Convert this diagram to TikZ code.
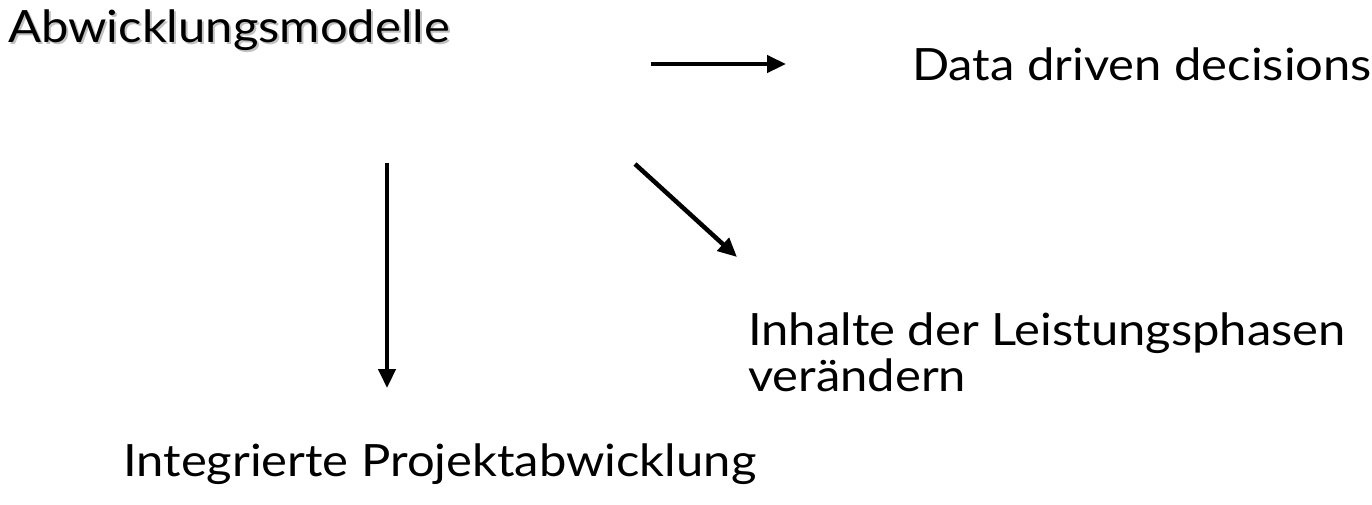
\documentclass[tikz,border=0pt]{standalone}
\usepackage{fontspec}
\setmainfont{Lato}
\usetikzlibrary{arrows.meta}
\newcommand{\widetext}[1]{\scalebox{1.1}[1]{#1}}
\begin{document}
\begin{tikzpicture}[x=1pt,y=-1pt,
  lbl/.style={anchor=base west,inner sep=0pt,font=\fontsize{44.5}{45}\selectfont},
  arr/.style={line width=4.5pt,-{Triangle[length=19pt,width=17pt]}}]
\useasboundingbox (0,0) rectangle (1372,504);
\node[lbl,text=black!30,opacity=0.8] (shadow) at (10,44) {\widetext{Abwicklungsmodelle}};
\node[lbl] (abw) at (8,42) {\widetext{Abwicklungsmodelle}};
\node[lbl] (data) at (912,80) {\widetext{Data driven decisions}};
\node[lbl] (inh) at (748,345) {\widetext{\begin{tabular}[t]{@{}l@{}}Inhalte der Leistungsphasen\\verändern\end{tabular}}};
\node[lbl] (int) at (123,476) {\widetext{Integrierte Projektabwicklung}};
\coordinate (a1s) at (651,64);
\coordinate (a1e) at (786,64);
\coordinate (a2s) at (387,163);
\coordinate (a2e) at (387,388);
\coordinate (a3s) at (635,164);
\coordinate (a3e) at (737,257);
\draw[arr] (a1s) -- (a1e);
\draw[arr] (a2s) -- (a2e);
\draw[arr] (a3s) -- (a3e);
\end{tikzpicture}
\end{document}
